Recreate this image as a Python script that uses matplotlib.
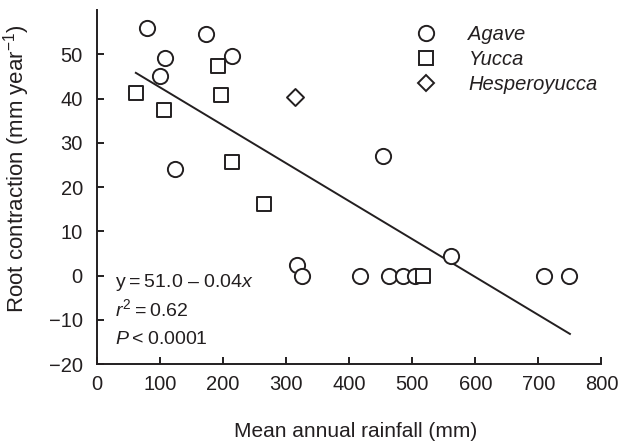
import matplotlib
matplotlib.use("Agg")
import matplotlib.pyplot as plt
from matplotlib.lines import Line2D

plt.rcParams["font.family"] = ["Liberation Sans", "DejaVu Sans"]
plt.rcParams["mathtext.fontset"] = "custom"
plt.rcParams["mathtext.rm"] = "Liberation Sans"
plt.rcParams["mathtext.it"] = "Liberation Sans:italic"

INK = "#231f20"

# rainfall (mm) vs root contraction (mm/yr)
agave_x = [79, 173, 109, 214, 100, 124, 318, 326, 418, 463, 486, 504, 709, 749, 561, 453]
agave_y = [55.9, 54.5, 49.2, 49.5, 45.0, 24.0, 2.3, 0.0, 0.0, 0.0, 0.0, 0.0, 0.0, 0.0, 4.5, 27.0]
yucca_x = [62, 106, 192, 197, 214, 265, 517]
yucca_y = [41.3, 37.3, 47.4, 40.8, 25.7, 16.1, 0.0]
hesp_x = [315]
hesp_y = [40.4]

# regression line as drawn in the figure
fit_x = [62, 750]
fit_y = [45.8, -13.2]

fig = plt.figure(figsize=(6.22, 4.45), dpi=100)
ax = fig.add_axes([0.1555, 0.182, 0.8115, 0.7955])

ax.plot(fit_x, fit_y, color=INK, lw=1.4, zorder=1)

mk = dict(facecolor="white", edgecolor=INK, linewidths=1.4, zorder=3)
ax.scatter(agave_x, agave_y, marker="o", s=120, **mk)
ax.scatter(yucca_x, yucca_y, marker="s", s=100, **mk)
ax.scatter(hesp_x, hesp_y, marker="D", s=75, **mk)

ax.set_xlim(0, 800)
ax.set_ylim(-20, 60)
ax.set_xticks(range(0, 801, 100))
ax.set_yticks(range(-20, 51, 10))
ax.set_yticklabels(["\u221220", "\u221210"] + [str(v) for v in range(0, 51, 10)])

for s in ["top", "right"]:
    ax.spines[s].set_visible(False)
for s in ["left", "bottom"]:
    ax.spines[s].set_color(INK)
    ax.spines[s].set_linewidth(1.4)
ax.tick_params(direction="in", length=5, width=1.4, color=INK, labelsize=14.5,
               labelcolor=INK)
ax.tick_params(axis="x", pad=8)
ax.tick_params(axis="y", pad=10)

ax.set_xlabel("Mean annual rainfall (mm)", fontsize=15, color=INK)
ax.set_ylabel("Root contraction (mm year$^{\\mathregular{\u22121}}$)", fontsize=16,
              color=INK)
ax.xaxis.set_label_coords(0.512, -0.163)
ax.yaxis.set_label_coords(-0.128, 0.553)

tx = 0.036
ax.text(tx, 0.217, "y\u2009=\u200951.0 \u2013 0.04$\\mathit{x}$", transform=ax.transAxes,
        fontsize=14, color=INK, va="baseline")
ax.text(tx, 0.136, "$\\mathit{r}^{\\mathregular{2}}$\u2009=\u20090.62", transform=ax.transAxes,
        fontsize=14, color=INK, va="baseline")
ax.text(tx, 0.056, "$\\mathit{P}$\u2009<\u20090.0001", transform=ax.transAxes,
        fontsize=14, color=INK, va="baseline")

handles = [
    Line2D([], [], marker="o", ls="none", ms=11, mfc="white", mec=INK, mew=1.4),
    Line2D([], [], marker="s", ls="none", ms=10, mfc="white", mec=INK, mew=1.4),
    Line2D([], [], marker="D", ls="none", ms=8.5, mfc="white", mec=INK, mew=1.4),
]
leg = ax.legend(handles, ["Agave", "Yucca", "Hesperoyucca"], frameon=False,
                loc="upper left", bbox_to_anchor=(398 / 622, 1 - 17 / 445),
                bbox_transform=fig.transFigure, borderaxespad=0,
                handlelength=2.0, handletextpad=1.1, labelspacing=0.3,
                prop={"style": "italic", "size": 14.5})
for t in leg.get_texts():
    t.set_color(INK)

fig.savefig("out.png", dpi=100)
